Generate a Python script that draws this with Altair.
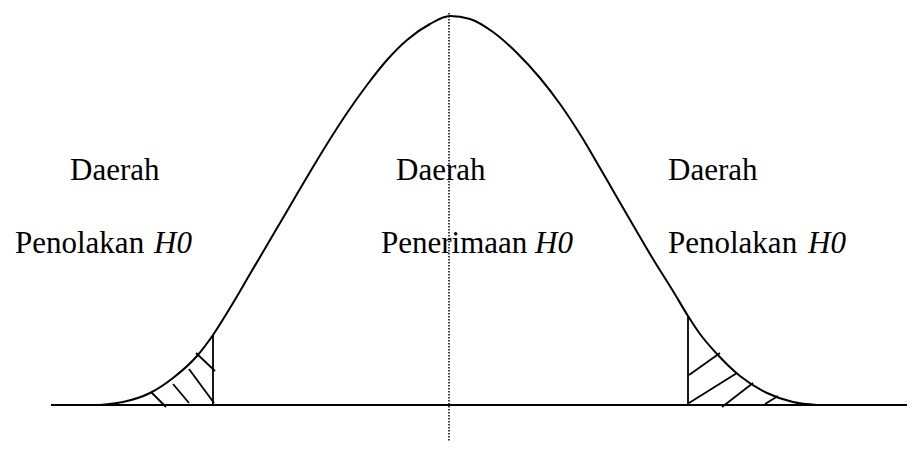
import altair as alt
import pandas as pd

# Curve (x position, height above the baseline)
curve_x = [100, 123, 150, 173, 197, 213, 230, 250, 270, 290, 310, 327, 347, 367, 387, 407, 430, 450,
           470, 493, 517, 540, 560, 583, 600, 615, 633, 653, 673, 688, 700, 717, 740, 767, 793, 817]
curve_v = [0, 3, 12, 27, 49, 70, 97, 131, 165, 199, 233, 261, 292, 320, 345, 365, 381, 389,
           386, 373, 352, 327, 301, 266, 237, 211, 180, 146, 114, 89, 71, 51, 29, 12, 3, 0]

# Critical value boundaries and hatching strokes (x, y, x2, y2)
seg_x = [213, 688, 151, 173, 189, 196, 689, 689, 722, 765]
seg_y = [0, 0, 13, 21, 36, 52, 30, 2, -2, 1]
seg_x2 = [213, 688, 166, 189, 214, 215, 720, 737, 753, 778]
seg_y2 = [70, 89, -2, 2, 2, 34, 52, 32, 22, 9]

# Axis line and centre line
base_x, base_x2, base_y = [51], [915], [0]
mid_x, mid_y, mid_y2 = [449], [392], [-37]

# Labels
label_text = ["Daerah", "Daerah", "Daerah", "Penolakan", "Penerimaan", "Penolakan"]
label_x = [70, 396, 668, 15, 381, 668]
label_y = [225, 225, 225, 152, 152, 152]
h0_text = ["H0", "H0", "H0"]
h0_x = [154, 535, 808]
h0_y = [152, 152, 152]

W, H = 899, 434
xs = alt.Scale(domain=[8, 907], nice=False, zero=False)
ys = alt.Scale(domain=[-37, 397], nice=False, zero=False)
FONT = "Liberation Serif, Times New Roman, DejaVu Serif, serif"
FS = 31

curve = pd.DataFrame({"x": curve_x, "v": curve_v})
segs = pd.DataFrame({"x": seg_x, "y": seg_y, "x2": seg_x2, "y2": seg_y2})
base = pd.DataFrame({"x": base_x, "x2": base_x2, "y": base_y})
mid = pd.DataFrame({"x": mid_x, "y": mid_y, "y2": mid_y2})
labels = pd.DataFrame({"t": label_text, "x": label_x, "y": label_y})
h0 = pd.DataFrame({"t": h0_text, "x": h0_x, "y": h0_y})

baseline = alt.Chart(base).mark_rule(color="black", strokeWidth=2).encode(
    x=alt.X("x:Q", scale=xs, axis=None), x2="x2:Q",
    y=alt.Y("y:Q", scale=ys, axis=None))

midline = alt.Chart(mid).mark_rule(color="black", strokeWidth=1.5, strokeDash=[1.5, 1.5]).encode(
    x=alt.X("x:Q", scale=xs, axis=None),
    y=alt.Y("y:Q", scale=ys, axis=None), y2="y2:Q")

line = alt.Chart(curve).mark_line(color="black", strokeWidth=2, interpolate="monotone").encode(
    x=alt.X("x:Q", scale=xs, axis=None),
    y=alt.Y("v:Q", scale=ys, axis=None))

hatch = alt.Chart(segs).mark_rule(color="black", strokeWidth=1.8).encode(
    x=alt.X("x:Q", scale=xs, axis=None), x2="x2:Q",
    y=alt.Y("y:Q", scale=ys, axis=None), y2="y2:Q")

text = alt.Chart(labels).mark_text(font=FONT, fontSize=FS, align="left",
                                   baseline="alphabetic", color="black").encode(
    x=alt.X("x:Q", scale=xs, axis=None),
    y=alt.Y("y:Q", scale=ys, axis=None), text="t:N")

text_h0 = alt.Chart(h0).mark_text(font=FONT, fontSize=FS, fontStyle="italic", align="left",
                                  baseline="alphabetic", color="black").encode(
    x=alt.X("x:Q", scale=xs, axis=None),
    y=alt.Y("y:Q", scale=ys, axis=None), text="t:N")

chart = alt.layer(baseline, midline, line, hatch, text, text_h0).properties(
    width=W, height=H, padding=0, autosize="none", background="white"
).configure_view(stroke=None)

chart.save("out.html", embed_options={"renderer": "svg", "actions": False})
